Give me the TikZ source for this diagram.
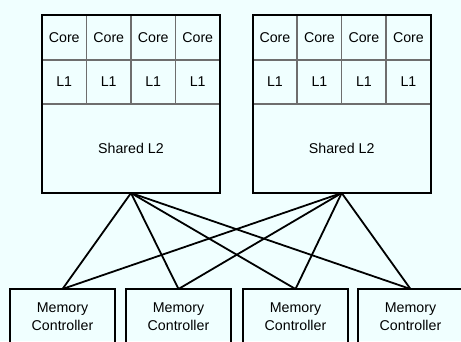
\documentclass[tikz,border=0pt]{standalone}
\usepackage{fontspec}
\setmainfont{Liberation Sans}
\definecolor{bgcol}{HTML}{F0FFFF}
\definecolor{divcol}{HTML}{6E6E6E}
\begin{document}
\begin{tikzpicture}[x=1pt,y=-1pt,
  every node/.style={font=\fontsize{14.2}{18}\selectfont, inner sep=0pt, outer sep=0pt},
  cell/.style={draw=divcol, line width=1.5pt, minimum width=44.5pt},
  corecell/.style={cell, minimum height=45pt},
  lonecell/.style={cell, minimum height=44pt},
  ltwocell/.style={cell, minimum width=178pt, minimum height=89pt},
  chipbox/.style={draw=black, line width=2pt, minimum width=178pt, minimum height=178pt},
  mcbox/.style={draw=black, line width=1.8pt, minimum width=105pt, minimum height=56pt, align=center},
  link/.style={draw=black, line width=1.8pt}]
\fill[bgcol] (0,0) rectangle (461,341);
\useasboundingbox (0,0) rectangle (461,341);
% chip 1
\foreach \i in {0,1,2,3}{
  \node[corecell] (aCore\i) at (42+22.25+44.5*\i,37.5) {Core};
  \node[lonecell] (aLone\i) at (42+22.25+44.5*\i,82) {L1};
}
\node[ltwocell] (aLtwo) at (131,148.5) {Shared L2};
\node[chipbox] (chipA) at (131,104) {};
% chip 2
\foreach \i in {0,1,2,3}{
  \node[corecell] (bCore\i) at (252.7+22.25+44.5*\i,37.5) {Core};
  \node[lonecell] (bLone\i) at (252.7+22.25+44.5*\i,82) {L1};
}
\node[ltwocell] (bLtwo) at (341.7,148.5) {Shared L2};
\node[chipbox] (chipB) at (341.7,104) {};
% memory controllers
\node[mcbox] (mcA) at (62.5,317) {Memory\\Controller};
\node[mcbox] (mcB) at (178.5,317) {Memory\\Controller};
\node[mcbox] (mcC) at (295.5,317) {Memory\\Controller};
\node[mcbox] (mcD) at (410.5,317) {Memory\\Controller};
% links
\foreach \c in {chipA,chipB}{
  \foreach \m in {mcA,mcB,mcC,mcD}{
    \draw[link] (\c.south) -- (\m.north);
  }
}
\end{tikzpicture}
\end{document}
